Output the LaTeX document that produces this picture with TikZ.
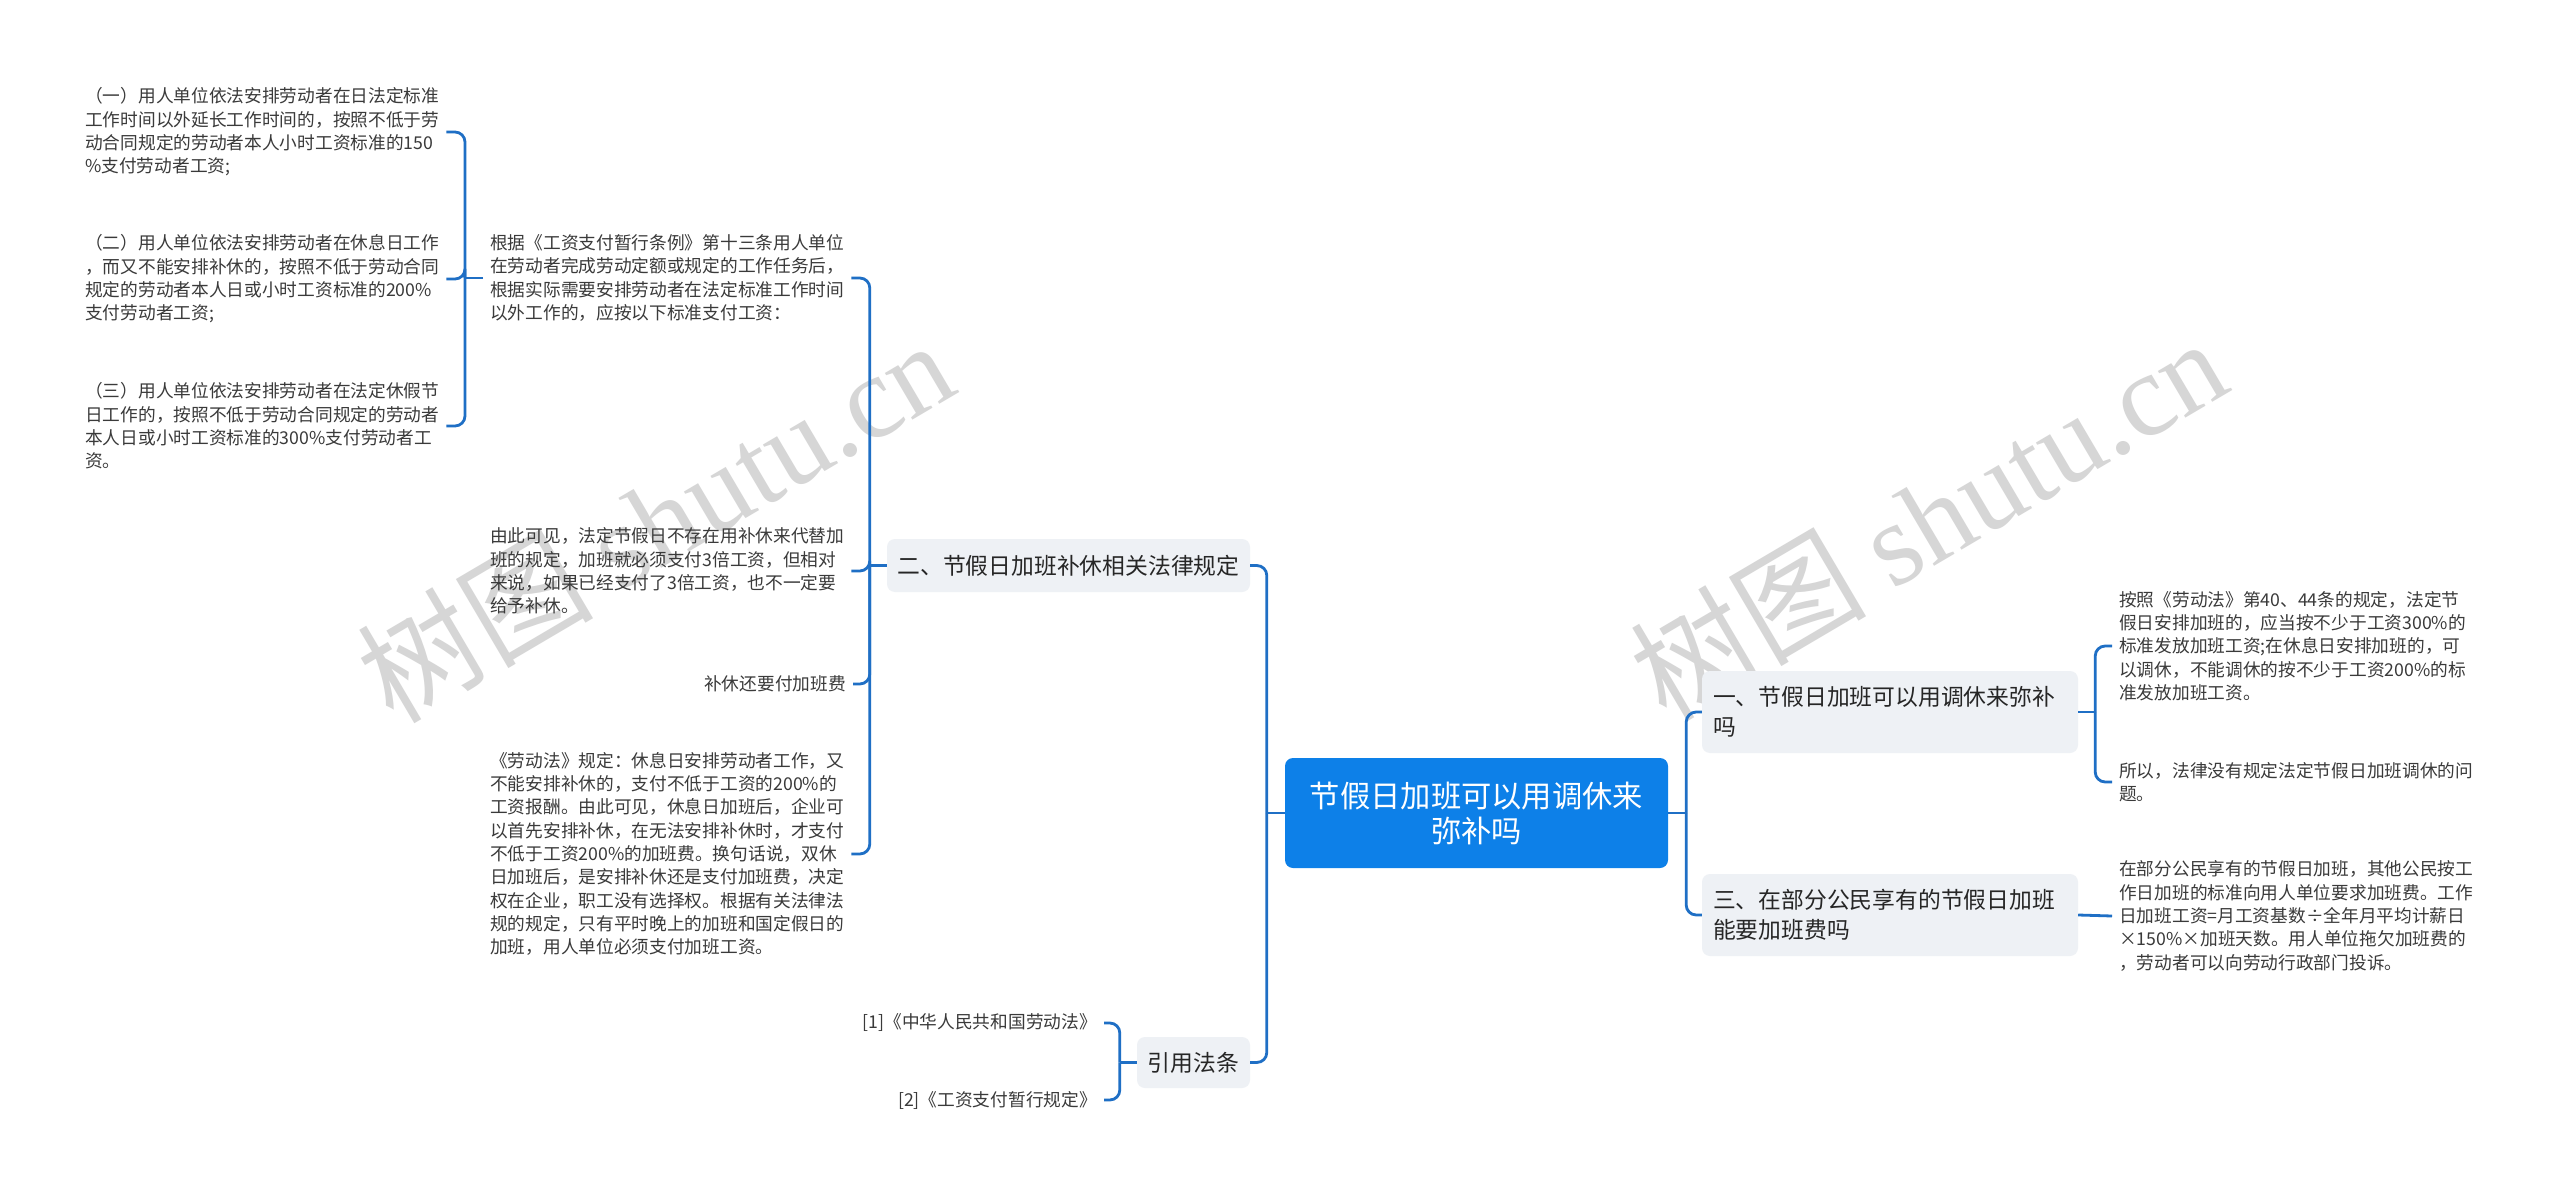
\documentclass[tikz,border=0pt]{standalone}
\usepackage{fontspec}
\setmainfont{Noto Sans CJK SC}
\newfontfamily\wmserif{Liberation Serif}
\definecolor{rootblue}{HTML}{0D80E8}
\definecolor{linec}{HTML}{1F6FC5}
\definecolor{branchfill}{HTML}{EEF1F5}
\definecolor{branchtext}{HTML}{262626}
\definecolor{leaftext}{HTML}{3A3A3A}
\definecolor{wmgray}{HTML}{D6D6D6}
\tikzset{
  conn/.style={draw=linec, line width=2.8pt},
  connr/.style={draw=linec, line width=2.8pt, rounded corners=10pt},
  leaf/.style={font=\fontsize{17.7}{23.3}\selectfont, text=leaftext, align=left, inner xsep=7pt, inner ysep=2pt},
  leafr/.style={font=\fontsize{17.7}{23.3}\selectfont, text=leaftext, align=right, inner xsep=7pt, inner ysep=2pt},
  branch/.style={font=\fontsize{22.8}{30}\selectfont, text=branchtext, fill=branchfill, rounded corners=8pt, align=left, inner sep=0pt},
  rootbox/.style={font=\fontsize{30.3}{35}\selectfont, text=white, fill=rootblue, rounded corners=8pt, align=center, inner sep=0pt, minimum width=383pt, minimum height=110pt},
  wm/.style={font=\fontsize{118}{120}\selectfont, text=wmgray, inner sep=0pt, rotate=30.5}
}
\begin{document}
\begin{tikzpicture}[x=1pt,y=-1pt]
\fill[white] (0,0) rectangle (2560,1198);
\useasboundingbox (0,0) rectangle (2560,1198);

% watermarks
\node[wm] (wm1) at (655,520) {树图 {\wmserif shutu.cn}};
\node[wm] (wm2) at (1928,518) {树图 {\wmserif shutu.cn}};

% root
\node[rootbox] (root) at (1476.5,813) {节假日加班可以用调休来\\弥补吗};

% branches
\node[branch, minimum width=363pt, minimum height=53pt] (b2) at (1068.5,565.5) {二、节假日加班补休相关法律规定};
\node[branch, minimum width=113pt, minimum height=51pt, align=center] (bref) at (1193.5,1062.5) {引用法条};
\node[branch, minimum width=376pt, minimum height=82pt, text width=354pt] (b1) at (1890,712) {一、节假日加班可以用调休来弥补\\吗};
\node[branch, minimum width=376pt, minimum height=82pt, text width=354pt] (b3) at (1890,915) {三、在部分公民享有的节假日加班\\能要加班费吗};

% leaves of b2
\node[leaf, anchor=west] (lgen) at (483,278) {根据《工资支付暂行条例》第十三条用人单位\\在劳动者完成劳动定额或规定的工作任务后，\\根据实际需要安排劳动者在法定标准工作时间\\以外工作的，应按以下标准支付工资：};
\node[leaf, anchor=west] (lyouci) at (483,571) {由此可见，法定节假日不存在用补休来代替加\\班的规定，加班就必须支付3倍工资，但相对\\来说，如果已经支付了3倍工资，也不一定要\\给予补休。};
\node[leafr, anchor=east] (lbuxiu) at (853,684) {补休还要付加班费};
\node[leaf, anchor=west] (lldf) at (483,854) {《劳动法》规定：休息日安排劳动者工作，又\\不能安排补休的，支付不低于工资的200\%的\\工资报酬。由此可见，休息日加班后，企业可\\以首先安排补休，在无法安排补休时，才支付\\不低于工资200\%的加班费。换句话说，双休\\日加班后，是安排补休还是支付加班费，决定\\权在企业，职工没有选择权。根据有关法律法\\规的规定，只有平时晚上的加班和国定假日的\\加班，用人单位必须支付加班工资。};

% leaves of lgen
\node[leaf, anchor=west] (l1) at (78,132) {（一）用人单位依法安排劳动者在日法定标准\\工作时间以外延长工作时间的，按照不低于劳\\动合同规定的劳动者本人小时工资标准的150\\\%支付劳动者工资;};
\node[leaf, anchor=west] (l2) at (78,279) {（二）用人单位依法安排劳动者在休息日工作\\，而又不能安排补休的，按照不低于劳动合同\\规定的劳动者本人日或小时工资标准的200\%\\支付劳动者工资;};
\node[leaf, anchor=west] (l3) at (78,426) {（三）用人单位依法安排劳动者在法定休假节\\日工作的，按照不低于劳动合同规定的劳动者\\本人日或小时工资标准的300\%支付劳动者工\\资。};

% refs
\node[leafr, anchor=east] (r1) at (1104,1023) {[1]《中华人民共和国劳动法》};
\node[leafr, anchor=east] (r2) at (1104,1100) {[2]《工资支付暂行规定》};

% right leaves
\node[leaf, anchor=west] (ra) at (2112,646) {按照《劳动法》第40、44条的规定，法定节\\假日安排加班的，应当按不少于工资300\%的\\标准发放加班工资;在休息日安排加班的，可\\以调休，不能调休的按不少于工资200\%的标\\准发放加班工资。};
\node[leaf, anchor=west] (rb) at (2112,782) {所以，法律没有规定法定节假日加班调休的问\\题。};
\node[leaf, anchor=west] (rc) at (2112,916) {在部分公民享有的节假日加班，其他公民按工\\作日加班的标准向用人单位要求加班费。工作\\日加班工资=月工资基数÷全年月平均计薪日\\×150\%×加班天数。用人单位拖欠加班费的\\，劳动者可以向劳动行政部门投诉。};

% connectors: root
\draw[conn] (root.west) -- ++(-18,0);
\draw[connr] (root.west) ++(-18,0) |- (b2.east);
\draw[connr] (root.west) ++(-18,0) |- (bref.east);
\draw[conn] (root.east) -- ++(18,0);
\draw[connr] (root.east) ++(18,0) |- (b1.west);
\draw[connr] (root.east) ++(18,0) |- (b3.west);

% b2
\draw[conn] (b2.west) -- ++(-17,0);
\draw[connr] (b2.west) ++(-17,0) |- (lgen.east);
\draw[connr] (b2.west) ++(-17,0) |- (lyouci.east);
\draw[connr] (b2.west) ++(-17,0) |- (lbuxiu.east);
\draw[connr] (b2.west) ++(-17,0) |- (lldf.east);

% lgen
\draw[conn] (lgen.west) -- ++(-18,0);
\draw[connr] (lgen.west) ++(-18,0) |- (l1.east);
\draw[connr] (lgen.west) ++(-18,0) |- (l2.east);
\draw[connr] (lgen.west) ++(-18,0) |- (l3.east);

% bref
\draw[conn] (bref.west) -- ++(-17,0);
\draw[connr] (bref.west) ++(-17,0) |- (r1.east);
\draw[connr] (bref.west) ++(-17,0) |- (r2.east);

% b1
\draw[conn] (b1.east) -- ++(17,0);
\draw[connr] (b1.east) ++(17,0) |- (ra.west);
\draw[connr] (b1.east) ++(17,0) |- (rb.west);

% b3
\draw[conn] (b3.east) -- (rc.west);
\end{tikzpicture}
\end{document}
